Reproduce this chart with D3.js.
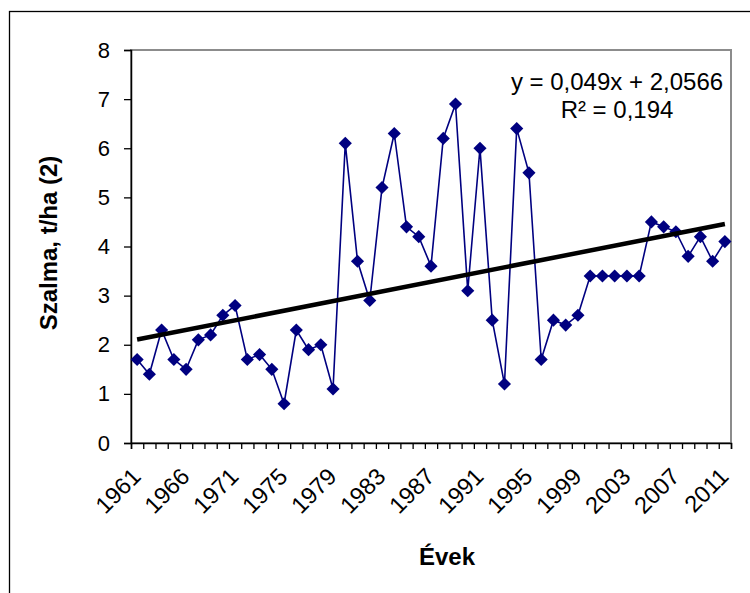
<!DOCTYPE html>
<html>
<head>
<meta charset="utf-8">
<script src="https://cdn.jsdelivr.net/npm/d3@7"></script>
<style>
    body { margin: 0; background: #fff; }
    svg { display: block; font-family: "Liberation Sans", Arial, sans-serif; }
</style>
</head>
<body>
<svg id="chart" width="750" height="593"></svg>
<script>
// years shown on the category axis (two early years are missing in the source)
const years = [1961, 1962, 1963, 1964, 1966, 1967, 1968, 1969,
    1971, 1972, 1973, 1974, 1975, 1976, 1977, 1978, 1979, 1980,
    1981, 1982, 1983, 1984, 1985, 1986, 1987, 1988, 1989, 1990,
    1991, 1992, 1993, 1994, 1995, 1996, 1997, 1998, 1999, 2000,
    2001, 2002, 2003, 2004, 2005, 2006, 2007, 2008, 2009, 2010, 2011];

const straw = [1.7, 1.4, 2.3, 1.7, 1.5, 2.1, 2.2, 2.6, 2.8, 1.7,
    1.8, 1.5, 0.8, 2.3, 1.9, 2.0, 1.1, 6.1, 3.7, 2.9,
    5.2, 6.3, 4.4, 4.2, 3.6, 6.2, 6.9, 3.1, 6.0, 2.5,
    1.2, 6.4, 5.5, 1.7, 2.5, 2.4, 2.6, 3.4, 3.4, 3.4,
    3.4, 3.4, 4.5, 4.4, 4.3, 3.8, 4.2, 3.7, 4.1];

const yTicks = [0, 1, 2, 3, 4, 5, 6, 7, 8];
const trendSlope = 0.049;
const trendIntercept = 2.0566;
const trendLabels = ["y = 0,049x + 2,0566", "R² = 0,194"];

const plot = { left: 131, right: 731, top: 50, bottom: 443 };
const navy = "#000080";

const svg = d3.select("#chart");

// outer chart frame (cut off at right and bottom like the source)
svg.append("rect")
    .attr("x", 9.5).attr("y", 11.5)
    .attr("width", 760).attr("height", 600)
    .attr("fill", "none").attr("stroke", "#000").attr("stroke-width", 1.3);

const x = d3.scaleLinear().domain([0, years.length]).range([plot.left, plot.right]);
const y = d3.scaleLinear().domain([0, 8]).range([plot.bottom, plot.top]);
const xc = i => x(i + 0.5);

// plot area border
svg.append("rect")
    .attr("x", plot.left).attr("y", plot.top)
    .attr("width", plot.right - plot.left).attr("height", plot.bottom - plot.top)
    .attr("fill", "none").attr("stroke", "#8c8c8c").attr("stroke-width", 2);

// y axis
const yAxis = svg.append("g")
    .attr("transform", `translate(${plot.left},0)`)
    .call(d3.axisLeft(y).tickValues(yTicks).tickSize(7).tickPadding(14));
yAxis.select(".domain").attr("stroke", "#000").attr("stroke-width", 1.5);
yAxis.selectAll(".tick line").attr("stroke", "#000").attr("stroke-width", 1.3);
yAxis.selectAll(".tick text")
    .attr("font-size", 22).attr("fill", "#000")
    .attr("font-family", "Liberation Sans, Arial, sans-serif");

// x axis: ticks between categories
const xAxis = svg.append("g")
    .attr("transform", `translate(0,${plot.bottom})`)
    .call(d3.axisBottom(x).tickValues(d3.range(0, years.length + 1)).tickSize(6).tickFormat(""));
xAxis.select(".domain").attr("stroke", "#000").attr("stroke-width", 1.5);
xAxis.selectAll(".tick line").attr("stroke", "#000").attr("stroke-width", 1.3);

// rotated year labels on every 4th category
svg.append("g")
    .selectAll("text")
    .data(years.map((yr, i) => ({ yr, i })).filter(d => d.i % 4 === 0))
    .join("text")
    .attr("transform", d => `translate(${xc(d.i) + 5},${plot.bottom + 35}) rotate(-45)`)
    .attr("text-anchor", "end")
    .attr("font-size", 23.5)
    .text(d => d.yr);

// series line and diamond markers
const line = d3.line().x((d, i) => xc(i)).y(d => y(d));
svg.append("path")
    .datum(straw)
    .attr("d", line)
    .attr("fill", "none")
    .attr("stroke", navy)
    .attr("stroke-width", 1.6);

svg.append("g")
    .selectAll("path")
    .data(straw)
    .join("path")
    .attr("d", d3.symbol(d3.symbolDiamond2, 110))
    .attr("transform", (d, i) => `translate(${xc(i)},${y(d)})`)
    .attr("fill", navy);

// linear trendline (x = 1..n)
const n = straw.length;
svg.append("line")
    .attr("x1", xc(0)).attr("y1", y(trendSlope * 1 + trendIntercept))
    .attr("x2", xc(n - 1)).attr("y2", y(trendSlope * n + trendIntercept))
    .attr("stroke", "#000").attr("stroke-width", 4.5);

// trendline label
svg.append("g")
    .selectAll("text")
    .data(trendLabels)
    .join("text")
    .attr("x", 617)
    .attr("y", (d, i) => 90 + i * 28)
    .attr("text-anchor", "middle")
    .attr("font-size", 24)
    .text(d => d);

// axis titles
svg.append("text")
    .attr("transform", `translate(57,243) rotate(-90)`)
    .attr("text-anchor", "middle")
    .attr("font-size", 24)
    .attr("font-weight", "bold")
    .text("Szalma, t/ha (2)");

svg.append("text")
    .attr("x", 447).attr("y", 565)
    .attr("text-anchor", "middle")
    .attr("font-size", 24)
    .attr("font-weight", "bold")
    .text("Évek");
</script>
</body>
</html>
